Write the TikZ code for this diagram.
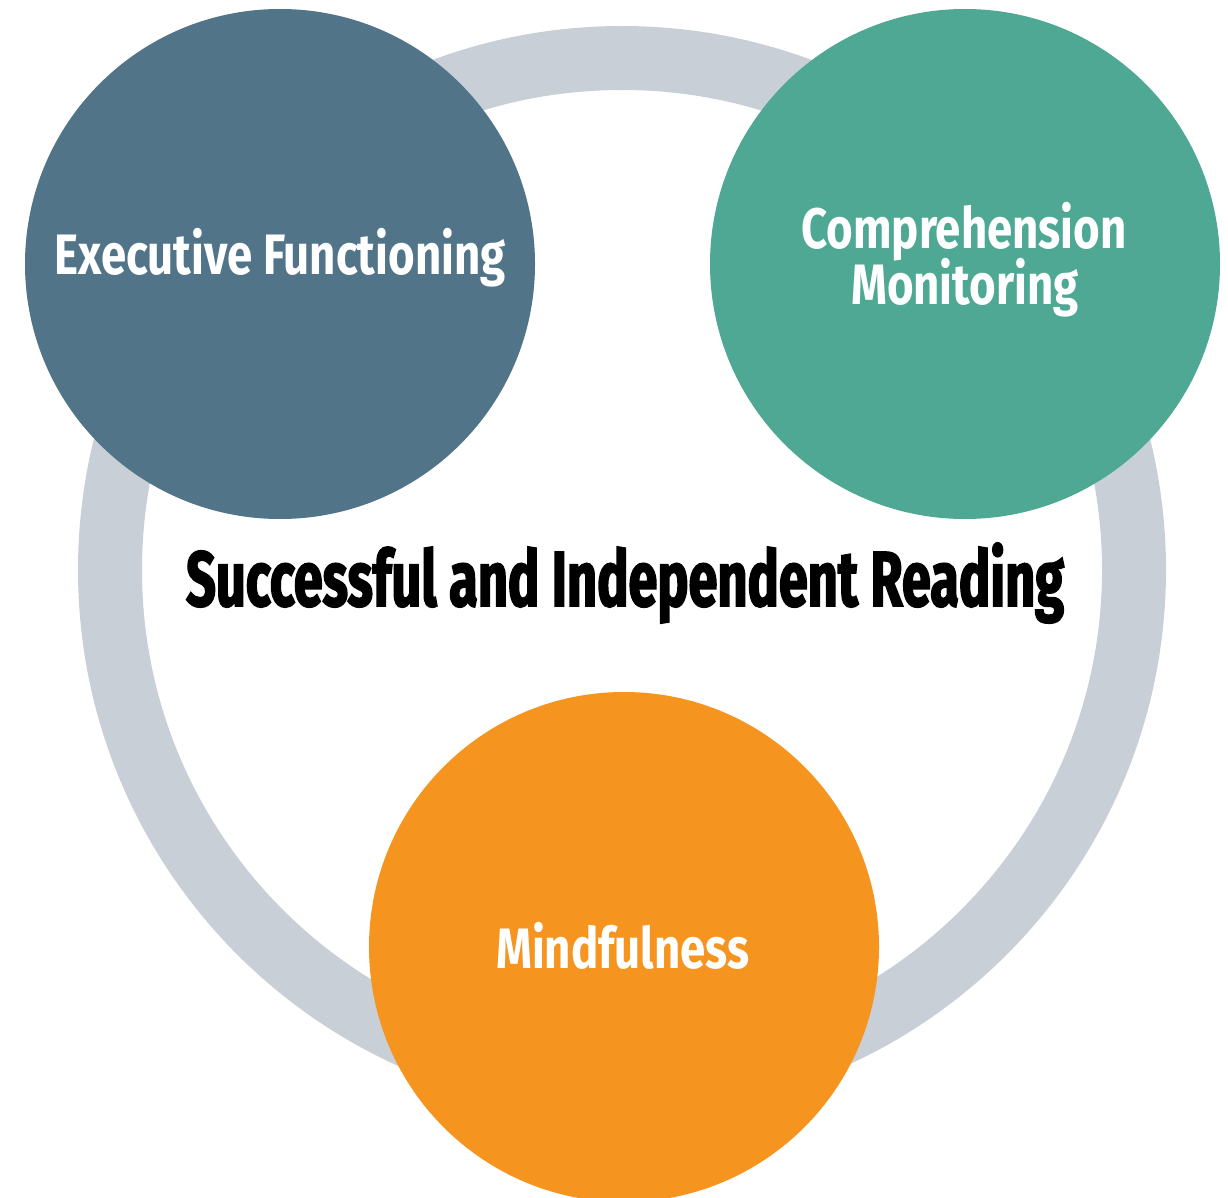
\documentclass[tikz,border=0pt]{standalone}
\usepackage{fontspec}
\newfontfamily\labelfont[FakeStretch=0.80]{Fira Sans Bold}
\newfontfamily\titlefont[FakeStretch=0.67,FakeBold=2]{Fira Sans Bold}
\definecolor{ringgray}{HTML}{C9CFD7}
\definecolor{slateblue}{HTML}{527489}
\definecolor{seagreen}{HTML}{4EA893}
\definecolor{sunorange}{HTML}{F5951F}
\tikzset{
  disc/.style={circle, minimum size=510pt, inner sep=0pt, draw=none},
  whitelabel/.style={text=white, font=\labelfont\fontsize{57}{57}\selectfont, anchor=base, inner sep=0pt},
  titlelabel/.style={text=black, font=\titlefont\fontsize{78}{78}\selectfont, anchor=base, inner sep=0pt}
}
\begin{document}
\begin{tikzpicture}[x=1pt,y=-1pt]
\useasboundingbox (0,0) rectangle (1228,1198);
% surrounding ring
\draw[ringgray, line width=64pt] (622,570) circle[radius=512];
% three discs
\node[disc, fill=slateblue] (exec) at (280,264) {};
\node[disc, fill=seagreen] (comp) at (965,264) {};
\node[disc, fill=sunorange] (mind) at (624,947) {};
% labels
\node[whitelabel] (execlabel) at (280,274) {Executive Functioning};
\node[whitelabel] (complabelA) at (964,249) {Comprehension};
\node[whitelabel] (complabelB) at (965,304) {Monitoring};
\node[whitelabel] (mindlabel) at (623,968) {Mindfulness};
\node[titlelabel] (title) at (625,606) {Successful and Independent Reading};
\end{tikzpicture}
\end{document}
